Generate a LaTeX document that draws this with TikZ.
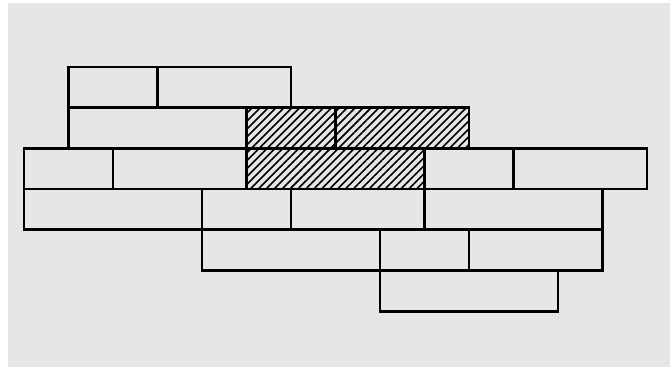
\documentclass[tikz,border=0pt]{standalone}
\usetikzlibrary{patterns.meta}
\definecolor{wallbg}{HTML}{E5E6E8}
\tikzset{
  brick/.style={draw=black, line width=2.7pt},
  hatchbrick/.style={brick, pattern={Lines[angle=45,distance=5.6pt,line width=1.6pt]}, pattern color=black}
}
% brick grid: column i -> x, course r -> y
\newcommand{\bx}[1]{24+44.5*#1}
\newcommand{\by}[1]{67+40.7*#1}
\begin{document}
\begin{tikzpicture}[x=1pt,y=-1pt]
  \useasboundingbox (0,0) rectangle (670,368);
  \fill[wallbg] (8,3) rectangle (670,367);
  % plain bricks: course/start/end
  \foreach \r/\a/\b in {0/1/3, 0/3/6,
                        1/1/5,
                        2/0/2, 2/2/5, 2/9/11, 2/11/14,
                        3/0/4, 3/4/6, 3/6/9, 3/9/13,
                        4/4/8, 4/8/10, 4/10/13,
                        5/8/12}
    \draw[brick] ({\bx{\a}},{\by{\r}}) rectangle ({\bx{\b}},{\by{(\r+1)}});
  % hatched bricks
  \foreach \r/\a/\b in {1/5/7, 1/7/10, 2/5/9}
    \draw[hatchbrick] ({\bx{\a}},{\by{\r}}) rectangle ({\bx{\b}},{\by{(\r+1)}});
\end{tikzpicture}
\end{document}
